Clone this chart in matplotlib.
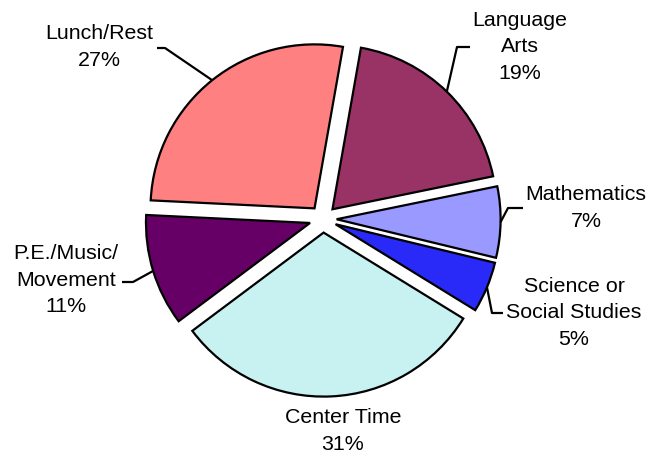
import numpy as np
import matplotlib.pyplot as plt

plt.rcParams['font.family'] = ['Liberation Sans', 'DejaVu Sans']

# data, clockwise from the top
categories = ['Language\nArts', 'Mathematics', 'Science or\nSocial Studies',
              'Center Time', 'P.E./Music/\nMovement', 'Lunch/Rest']
percents = [19, 7, 5, 31, 11, 27]
colors = ['#993366', '#9999FF', '#2A2AF8', '#C8F2F2', '#660066', '#FF8080']

H = 455  # image height, used to flip pixel rows into data y
cx, cy, R, boom = 323, H - 219, 164, 13.6

fig = plt.figure(figsize=(6.47, 4.55), dpi=100)
ax = fig.add_axes([0, 0, 1, 1])

wedges, _ = ax.pie(percents, colors=colors, startangle=80, counterclock=False,
                   explode=[boom] * len(percents), radius=R, center=(cx, cy),
                   wedgeprops=dict(edgecolor='black', linewidth=1.6))

ax.set_xlim(0, 647)
ax.set_ylim(0, H)
ax.set_aspect('equal')
ax.axis('off')

# label placement (pixel coords) and leader elbow, None = no leader
label_pos = [(520, 47), (586, 208), (574, 313), (343, 431), (66, 280), (99, 47)]
elbows = [((470, 47), (457, 47)), ((523, 208), (508, 208)),
          ((503, 313), (492, 313)), None,
          ((122, 282), (133, 282)), ((157, 48), (165, 48))]

for w, name, pct, (lx, ly), elb in zip(wedges, categories, percents, label_pos, elbows):
    ax.text(lx, H - ly, f'{name}\n{pct}%', ha='center', va='center',
            fontsize=15.4, linespacing=1.5)
    if elb is None:
        continue
    mid = np.deg2rad((w.theta1 + w.theta2) / 2)
    wx, wy = w.center
    px, py = wx + R * np.cos(mid), wy + R * np.sin(mid)
    (ax0, ay0), (ax1, ay1) = elb
    ax.plot([ax0, ax1, px], [H - ay0, H - ay1, py], color='black', lw=1.6,
            solid_capstyle='butt')

fig.savefig('out.png', dpi=100)
